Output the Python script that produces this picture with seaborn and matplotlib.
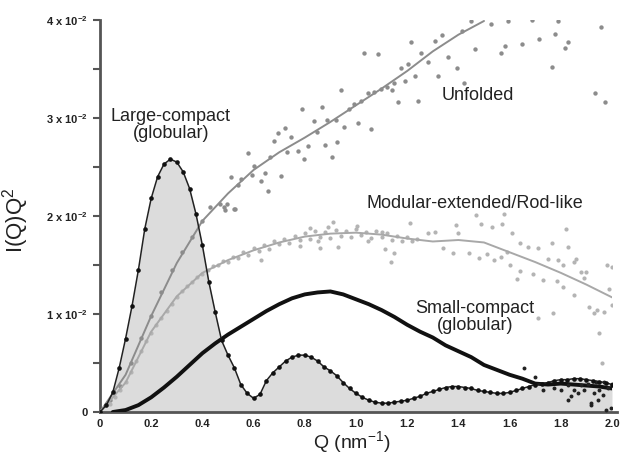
import matplotlib
matplotlib.use("Agg")
import matplotlib.pyplot as plt
import seaborn as sns
import numpy as np

# ---------------- data (I values in units of 1e-2) ----------------
# Large-compact (globular)
lc_Q = [0.000, 0.025, 0.050, 0.075, 0.100, 0.125, 0.150, 0.175, 0.200, 0.225,
        0.250, 0.275, 0.300, 0.325, 0.350, 0.375, 0.400, 0.425, 0.450, 0.475,
        0.500, 0.525, 0.550, 0.575, 0.600, 0.625, 0.650, 0.675, 0.700, 0.725,
        0.750, 0.775, 0.800, 0.825, 0.850, 0.875, 0.900, 0.925, 0.950, 0.975,
        1.000, 1.025, 1.050, 1.075, 1.100, 1.125, 1.150, 1.175, 1.200, 1.225,
        1.250, 1.275, 1.300, 1.325, 1.350, 1.375, 1.400, 1.425, 1.450, 1.475,
        1.500, 1.525, 1.550, 1.575, 1.600, 1.625, 1.650, 1.675, 1.700, 1.725,
        1.750, 1.775, 1.800, 1.825, 1.850, 1.875, 1.900, 1.925, 1.950, 1.975, 2.000]
lc_I = [0.00, 0.07, 0.20, 0.45, 0.75, 1.08, 1.45, 1.87, 2.18, 2.40,
        2.53, 2.58, 2.55, 2.45, 2.28, 2.02, 1.70, 1.33, 1.02, 0.73,
        0.58, 0.45, 0.28, 0.19, 0.14, 0.18, 0.32, 0.40, 0.46, 0.52,
        0.56, 0.58, 0.58, 0.56, 0.52, 0.46, 0.42, 0.37, 0.30, 0.24,
        0.19, 0.15, 0.12, 0.10, 0.09, 0.09, 0.10, 0.11, 0.12, 0.14,
        0.16, 0.19, 0.21, 0.23, 0.25, 0.26, 0.26, 0.25, 0.24, 0.22,
        0.21, 0.20, 0.19, 0.19, 0.20, 0.22, 0.24, 0.26, 0.28, 0.29,
        0.30, 0.32, 0.33, 0.33, 0.34, 0.34, 0.33, 0.32, 0.31, 0.30, 0.28]

# Small-compact (globular)
sc_Q = [0.05, 0.10, 0.15, 0.20, 0.25, 0.30, 0.35, 0.40, 0.45, 0.50, 0.55,
        0.60, 0.65, 0.70, 0.75, 0.80, 0.85, 0.90, 0.95, 1.00, 1.05,
        1.10, 1.15, 1.20, 1.25, 1.30, 1.35, 1.40, 1.45, 1.50, 1.55,
        1.60, 1.65, 1.70, 1.75, 1.80, 1.85, 1.90, 1.95, 2.00]
sc_I = [0.00, 0.02, 0.07, 0.15, 0.25, 0.36, 0.48, 0.60, 0.70, 0.79, 0.87,
        0.95, 1.03, 1.10, 1.16, 1.20, 1.22, 1.23, 1.20, 1.15, 1.10,
        1.04, 0.97, 0.89, 0.82, 0.76, 0.68, 0.62, 0.56, 0.48, 0.43,
        0.38, 0.34, 0.29, 0.28, 0.29, 0.28, 0.27, 0.26, 0.24]
# scattered dark points in the high-Q tail
tail_Q = [1.657, 1.70, 1.84, 1.866, 1.89, 1.918, 1.944, 1.964, 1.983, 1.996,
          1.977, 1.80, 1.774, 1.827, 1.879, 1.905, 1.937, 1.97, 2.0, 1.729,
          1.93, 1.95, 1.827, 1.853, 1.918]
tail_I = [0.45, 0.36, 0.16, 0.19, 0.22, 0.07, 0.12, 0.17, 0.24, 0.04,
          0.02, 0.22, 0.24, 0.28, 0.28, 0.29, 0.31, 0.31, 0.29, 0.22,
          0.19, 0.22, 0.12, 0.22, 0.09]

# Modular-extended / Rod-like : fitted line
rod_line_Q = [0.0, 0.1, 0.2, 0.3, 0.4, 0.5, 0.6, 0.7, 0.8, 0.9, 1.0,
              1.1, 1.2, 1.3, 1.4, 1.5, 1.6, 1.7, 1.8, 1.9, 2.0]
rod_line_I = [0.00, 0.30, 0.82, 1.18, 1.42, 1.55, 1.65, 1.73, 1.79, 1.82, 1.83,
              1.81, 1.77, 1.74, 1.755, 1.73, 1.63, 1.53, 1.42, 1.30, 1.17]
# Rod-like data points
rod_Q = [0.04, 0.06, 0.08, 0.10, 0.12, 0.14, 0.16, 0.18, 0.20, 0.22, 0.24, 0.26,
         0.28, 0.30, 0.32, 0.34, 0.36, 0.38, 0.40, 0.42, 0.44, 0.46, 0.48, 0.50,
         0.52, 0.54, 0.56, 0.58, 0.60, 0.62, 0.64, 0.66, 0.68, 0.70, 0.72, 0.74,
         0.76, 0.78, 0.80, 0.82, 0.84, 0.86, 0.88, 0.90, 0.92, 0.94, 0.96, 0.98,
         1.00, 1.02, 1.04, 1.06, 1.08, 1.10, 1.12, 1.14, 1.16, 1.18, 1.20, 1.22, 1.24,
         0.91, 1.005, 1.21, 0.86, 0.93, 1.115, 1.15, 1.135, 0.85, 0.78, 0.63, 1.10,
         0.82, 0.89, 1.045,
         1.39, 1.47, 1.49, 1.53, 1.57, 1.61, 1.82, 1.765, 1.64, 1.67, 1.71, 1.83,
         1.28, 1.31, 1.40, 1.34, 1.38, 1.44, 1.48, 1.51, 1.54, 1.565, 1.59, 1.60,
         1.64, 1.63, 1.69, 1.73, 1.75, 1.79, 1.785, 1.81, 1.85, 1.86, 1.81, 1.85,
         1.88, 1.90, 1.89, 1.98, 2.00, 1.99, 1.91, 1.94, 1.97, 2.00, 1.93, 1.71,
         1.77, 1.95, 1.96, 1.58]
rod_I = [0.08, 0.15, 0.22, 0.31, 0.41, 0.52, 0.62, 0.72, 0.81, 0.89, 0.96, 1.03,
         1.10, 1.17, 1.23, 1.29, 1.33, 1.38, 1.41, 1.45, 1.49, 1.50, 1.54, 1.53,
         1.58, 1.57, 1.63, 1.60, 1.67, 1.64, 1.70, 1.66, 1.74, 1.71, 1.77, 1.72,
         1.80, 1.76, 1.83, 1.77, 1.85, 1.79, 1.84, 1.78, 1.86, 1.80, 1.85, 1.79,
         1.87, 1.81, 1.84, 1.78, 1.85, 1.79, 1.83, 1.76, 1.80, 1.75, 1.79, 1.74, 1.77,
         1.94, 1.90, 1.93, 1.67, 1.68, 1.66, 1.62, 1.53, 1.74, 1.69, 1.55, 1.84,
         1.88, 1.89, 1.74,
         1.91, 2.01, 1.92, 1.89, 1.92, 1.83, 1.87, 1.72, 1.72, 1.68, 1.67, 1.68,
         1.83, 1.84, 1.83, 1.67, 1.62, 1.62, 1.57, 1.61, 1.55, 1.58, 1.63, 1.50,
         1.44, 1.36, 1.41, 1.35, 1.56, 1.55, 1.34, 1.50, 1.53, 1.56, 1.28, 1.19,
         1.43, 1.43, 1.37, 1.50, 1.48, 1.26, 1.07, 1.04, 1.02, 1.09, 1.01, 0.96,
         1.01, 0.81, 0.50, 2.02]

# Unfolded : fitted line
unf_line_Q = [0.0, 0.1, 0.2, 0.3, 0.4, 0.5, 0.6, 0.7, 0.8, 0.9, 1.0,
              1.1, 1.2, 1.3, 1.4, 1.5]
unf_line_I = [0.00, 0.38, 0.98, 1.52, 1.95, 2.23, 2.47, 2.65, 2.80, 2.96, 3.13,
              3.30, 3.48, 3.68, 3.85, 3.99]
# Unfolded data points
unf_Q = [0.04, 0.08, 0.12, 0.16, 0.20, 0.24, 0.28, 0.32, 0.36, 0.40,
         0.789, 0.868, 0.835, 0.887, 0.694, 0.724, 0.681, 0.746, 0.811, 0.848,
         0.926, 0.877, 0.907, 0.774, 0.731, 0.798, 0.578, 0.665, 0.603, 0.643,
         0.707, 0.513, 0.552, 0.594, 0.629, 0.541, 0.655, 0.483, 0.431, 0.470,
         0.522, 0.496, 0.489, 0.528,
         1.213, 1.307, 1.337, 1.416, 1.448, 1.464, 1.033, 1.087, 1.255, 1.281,
         1.359, 1.177, 1.203, 1.396, 1.230, 1.190, 1.320, 1.422, 1.148, 1.122,
         1.096, 1.070, 1.046, 1.139, 0.942, 1.018, 0.994, 0.972, 1.164, 1.242,
         0.920, 0.955, 1.007, 1.059,
         1.529, 1.594, 1.686, 1.790, 1.957, 1.581, 1.568, 1.647, 1.713, 1.778,
         1.829, 1.817, 1.764, 1.933, 1.973]
unf_I = [0.12, 0.27, 0.50, 0.76, 0.98, 1.22, 1.45, 1.63, 1.79, 1.95,
         3.089, 3.115, 2.972, 2.980, 2.850, 2.895, 2.768, 2.803, 2.714, 2.860,
         2.758, 2.724, 2.605, 2.666, 2.656, 2.585, 2.640, 2.599, 2.510, 2.442,
         2.408, 2.401, 2.374, 2.418, 2.360, 2.316, 2.258, 2.095, 2.095, 2.122,
         2.068, 2.122, 2.061, 2.068,
         3.779, 3.786, 3.847, 3.891, 3.993, 3.701, 3.660, 3.653, 3.666, 3.574,
         3.619, 3.507, 3.551, 3.507, 3.429, 3.381, 3.429, 3.360, 3.354, 3.313,
         3.293, 3.268, 3.258, 3.286, 3.286, 3.177, 3.143, 3.089, 3.166, 3.177,
         2.980, 2.905, 2.952, 2.885,
         3.959, 3.993, 4.000, 3.993, 3.926, 3.735, 3.666, 3.752, 3.803, 3.857,
         3.776, 3.717, 3.523, 3.258, 3.160]

x_ticks = [0.0, 0.2, 0.4, 0.6, 0.8, 1.0, 1.2, 1.4, 1.6, 1.8, 2.0]
x_tick_labels = ["0", "0.2", "0.4", "0.6", "0.8", "1.0", "1.2", "1.4", "1.6", "1.8", "2.0"]
y_ticks = [0, 1, 2, 3, 4]
y_tick_labels = ["0", r"1 x 10$^{\mathbf{-2}}$", r"2 x 10$^{\mathbf{-2}}$",
                 r"3 x 10$^{\mathbf{-2}}$", r"4 x 10$^{\mathbf{-2}}$"]

# ---------------- plot ----------------
sns.set_style("white")
plt.rcParams["font.family"] = ["Liberation Sans", "DejaVu Sans"]
plt.rcParams["mathtext.fontset"] = "custom"
plt.rcParams["mathtext.rm"] = "Liberation Sans"
plt.rcParams["mathtext.bf"] = "Liberation Sans:bold"

fig = plt.figure(figsize=(6.2, 4.57), dpi=100)
ax = fig.add_axes([100/620, 1-412/457, 512/620, 392/457])

# grey fill under the large-compact curve
ax.fill_between(lc_Q, lc_I, 0, color="#dcdcdc", lw=0, zorder=1)

# unfolded
sns.scatterplot(x=unf_Q, y=unf_I, ax=ax, color="#8c8c8c", s=10, linewidth=0, zorder=3)
sns.lineplot(x=unf_line_Q, y=unf_line_I, ax=ax, color="#8c8c8c", lw=1.4, zorder=4)

# rod-like
sns.scatterplot(x=rod_Q, y=rod_I, ax=ax, color="#b4b4b4", s=9, linewidth=0, zorder=3)
sns.lineplot(x=rod_line_Q, y=rod_line_I, ax=ax, color="#a8a8a8", lw=1.4, zorder=4)

# small-compact
sns.lineplot(x=sc_Q, y=sc_I, ax=ax, color="#111111", lw=2.8, zorder=5)
sns.scatterplot(x=tail_Q, y=tail_I, ax=ax, color="#222222", s=8, linewidth=0, zorder=5)

# large-compact
sns.lineplot(x=lc_Q, y=lc_I, ax=ax, color="#222222", lw=1.1, zorder=6)
sns.scatterplot(x=lc_Q, y=lc_I, ax=ax, color="#111111", s=11, linewidth=0, zorder=7)

ax.set_xlim(0, 2.0)
ax.set_ylim(0, 4.0)
ax.set_xticks(x_ticks)
ax.set_xticklabels(x_tick_labels, fontsize=8, fontweight="bold", color="#222222")
ax.set_yticks(y_ticks)
ax.set_yticklabels(y_tick_labels, fontsize=8, fontweight="bold", color="#222222")
ax.set_yticks([0.5, 1.5, 2.5, 3.5], minor=True)
ax.tick_params(axis="y", which="both", direction="out", length=5, width=1.5,
               color="#555555", left=True, pad=4)
ax.tick_params(axis="x", which="both", length=0, pad=5)

for s in ["top", "right"]:
    ax.spines[s].set_visible(False)
for s in ["left", "bottom"]:
    ax.spines[s].set_color("#555555")
    ax.spines[s].set_linewidth(2.0)
ax.spines["bottom"].set_bounds(0, 2.02)

ax.set_xlabel("Q (nm$^{-1}$)", fontsize=14, color="#222222")
ax.xaxis.set_label_coords(0.492, -0.045)
ax.set_ylabel("I(Q)Q$^{2}$", fontsize=16, color="#222222")
ax.yaxis.set_label_coords(-0.135, 0.49)

txt = dict(fontsize=13, color="#222222", ha="center", va="center")
ax.text(0.277, 2.93, "Large-compact\n(globular)", linespacing=1.0, **txt)
ax.text(1.475, 3.23, "Unfolded", **txt)
ax.text(1.465, 2.13, "Modular-extended/Rod-like", **txt)
ax.text(1.465, 0.97, "Small-compact\n(globular)", linespacing=1.0, **txt)

fig.savefig("out.png", dpi=100)
